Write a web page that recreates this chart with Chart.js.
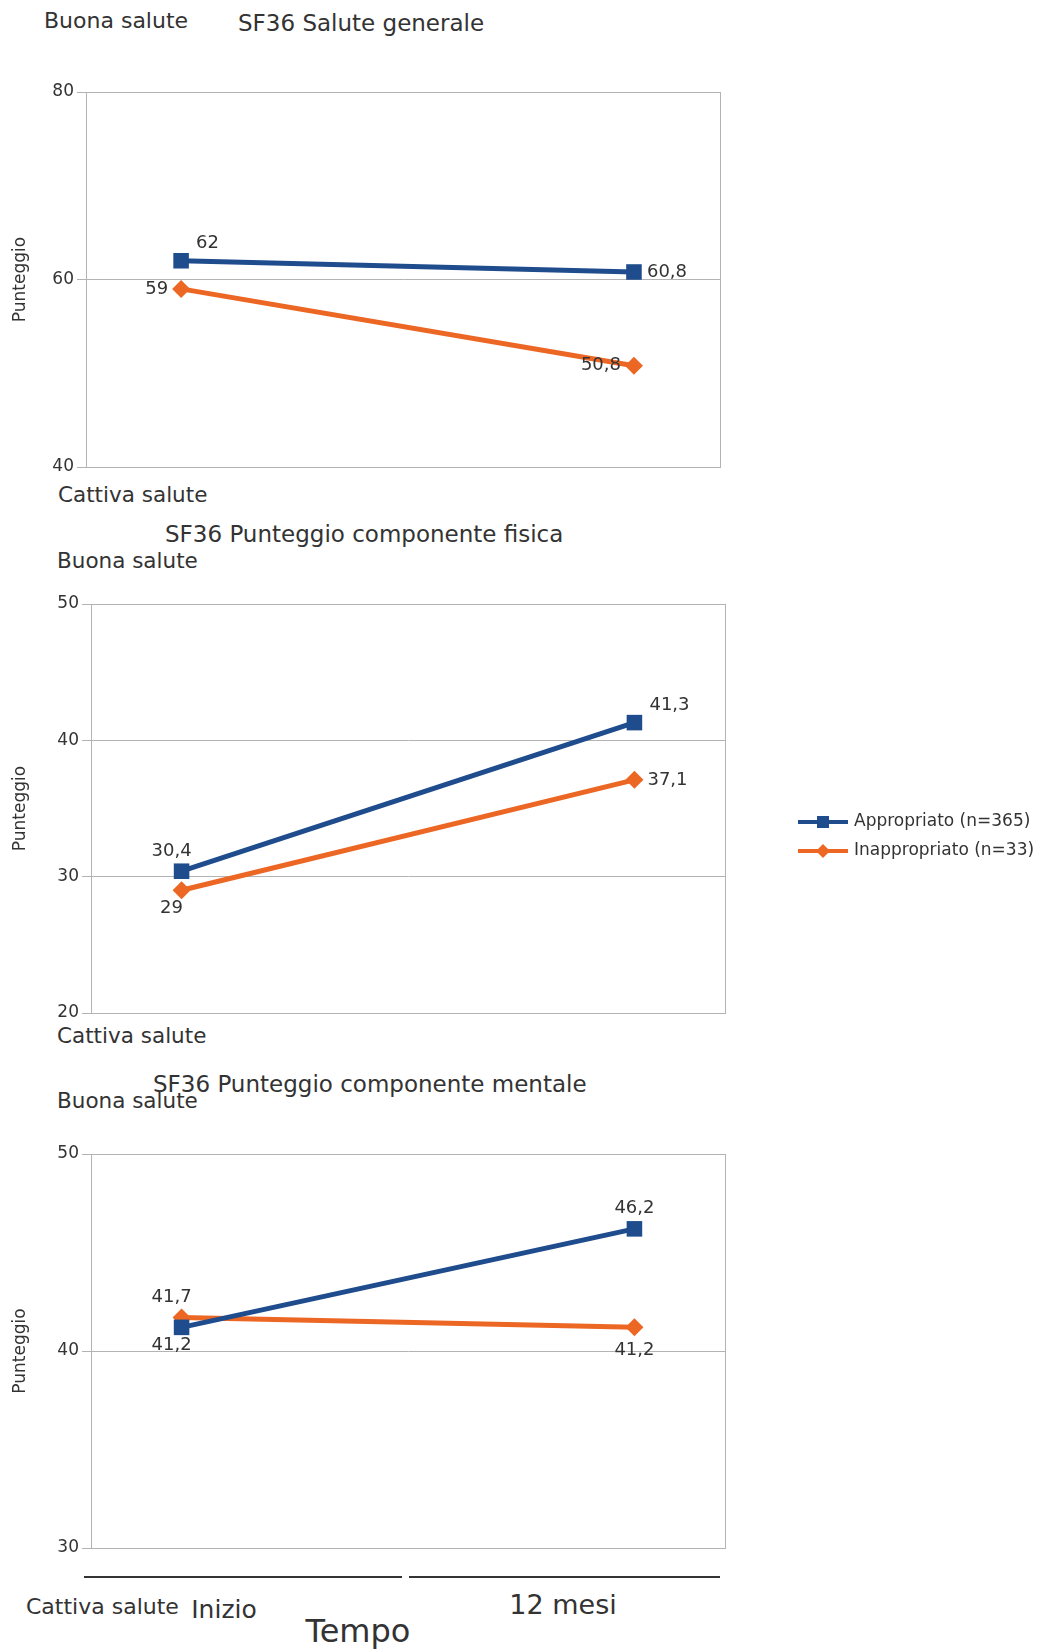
<!DOCTYPE html>
<html>
<head>
<meta charset="utf-8">
<script src="https://cdn.jsdelivr.net/npm/chart.js@4.4.1/dist/chart.umd.min.js"></script>
<style>
  body { margin: 0; background: #fff; }
  #page { position: relative; width: 1041px; height: 1652px; overflow: hidden; font-family: "DejaVu Sans", sans-serif; color: #333; }
  .txt { position: absolute; white-space: nowrap; transform: translateY(-50%); line-height: 1; }
  .mid { transform: translate(-50%, -50%); }
  .rule { position: absolute; height: 2px; background: #333; }
  canvas { position: absolute; }
</style>
</head>
<body>
<div id="page">
  <div class="txt" style="left:44px;top:21px;font-size:22px">Buona salute</div>
  <div class="txt" style="left:238px;top:23px;font-size:23px">SF36 Salute generale</div>
  <div class="txt" style="left:58px;top:495px;font-size:21.5px">Cattiva salute</div>

  <div class="txt" style="left:165px;top:534px;font-size:23px">SF36 Punteggio componente fisica</div>
  <div class="txt" style="left:57px;top:561px;font-size:21.5px">Buona salute</div>
  <div class="txt" style="left:57px;top:1036px;font-size:21.5px">Cattiva salute</div>

  <div class="txt" style="left:153px;top:1084px;font-size:23px">SF36 Punteggio componente mentale</div>
  <div class="txt" style="left:57px;top:1101px;font-size:21.5px">Buona salute</div>

  <div class="rule" style="left:84px;top:1576px;width:318px"></div>
  <div class="rule" style="left:409px;top:1576px;width:311px"></div>
  <div class="txt" style="left:26px;top:1607px;font-size:22px">Cattiva salute</div>
  <div class="txt mid" id="tp0" style="left:224px;top:1609px;font-size:25px"></div>
  <div class="txt mid" id="tp1" style="left:563px;top:1604px;font-size:27px"></div>
  <div class="txt mid" style="left:358px;top:1631px;font-size:32px">Tempo</div>

  <canvas id="chartGenerale"></canvas>
  <canvas id="chartFisica"></canvas>
  <canvas id="chartMentale"></canvas>
</div>
<script>
const series = ['Appropriato (n=365)', 'Inappropriato (n=33)'];
const timepoints = ['Inizio', '12 mesi'];

const generaleAppropriato = [62, 60.8];
const generaleInappropriato = [59, 50.8];
const generaleTicks = [40, 60, 80];

const fisicaAppropriato = [30.4, 41.3];
const fisicaInappropriato = [29, 37.1];
const fisicaTicks = [20, 30, 40, 50];

const mentaleAppropriato = [41.2, 46.2];
const mentaleInappropriato = [41.7, 41.2];
const mentaleTicks = [30, 40, 50];

const BLUE = '#1f4c8c';
const ORANGE = '#ec6624';
const GRID = '#b3b3b3';
const FONT = 'DejaVu Sans';

document.getElementById('tp0').textContent = timepoints[0];
document.getElementById('tp1').textContent = timepoints[1];

// where the value label goes relative to its point
const offsets = {
    above:      { dx: 0,   dy: -21, align: 'center' },
    aboveLeft:  { dx: -10, dy: -20, align: 'center' },
    below:      { dx: 0,   dy: 23,  align: 'center' },
    belowLeft:  { dx: -10, dy: 18,  align: 'center' },
    left:       { dx: -13, dy: 0,   align: 'right' },
    right:      { dx: 13,  dy: 0,   align: 'left' },
    aboveRight: { dx: 15,  dy: -17, align: 'left' }
};

const valueLabels = {
    id: 'valueLabels',
    afterDatasetsDraw(chart) {
        const ctx = chart.ctx;
        ctx.save();
        ctx.font = '18px ' + FONT;
        ctx.fillStyle = '#333';
        ctx.textBaseline = 'middle';
        chart.data.datasets.forEach((ds, i) => {
            chart.getDatasetMeta(i).data.forEach((pt, j) => {
                const o = offsets[ds.labelPlace[j]];
                ctx.textAlign = o.align;
                ctx.fillText(String(ds.data[j].y).replace('.', ','), pt.x + o.dx, pt.y + o.dy);
            });
        });
        ctx.restore();
    }
};

const frame = {
    id: 'frame',
    beforeDatasetsDraw(chart) {
        const a = chart.chartArea;
        const ctx = chart.ctx;
        ctx.save();
        ctx.strokeStyle = GRID;
        ctx.lineWidth = 1;
        ctx.strokeRect(a.left + 0.5, a.top + 0.5, a.right - a.left, a.bottom - a.top);
        ctx.restore();
    }
};

const sideLegend = {
    id: 'sideLegend',
    afterDraw(chart, args, opts) {
        if (!opts.show) return;
        const ctx = chart.ctx;
        ctx.save();
        chart.data.datasets.forEach((ds, i) => {
            const y = opts.y + i * 29;
            ctx.strokeStyle = ds.borderColor;
            ctx.lineWidth = 4;
            ctx.beginPath();
            ctx.moveTo(opts.x, y);
            ctx.lineTo(opts.x + 50, y);
            ctx.stroke();
            ctx.fillStyle = ds.borderColor;
            const cx = opts.x + 25;
            ctx.beginPath();
            if (ds.pointStyle === 'rect') {
                ctx.rect(cx - 6, y - 6, 12, 12);
            } else {
                ctx.moveTo(cx, y - 7); ctx.lineTo(cx + 7, y); ctx.lineTo(cx, y + 7); ctx.lineTo(cx - 7, y);
                ctx.closePath();
            }
            ctx.fill();
            ctx.fillStyle = '#333';
            ctx.font = '17px ' + FONT;
            ctx.textAlign = 'left';
            ctx.textBaseline = 'middle';
            ctx.fillText(ds.label, opts.x + 56, y);
        });
        ctx.restore();
    }
};

function renderPanel(id, appr, inappr, ticks, places, box, legend) {
    const canvas = document.getElementById(id);
    canvas.width = box.width;
    canvas.height = box.height;
    canvas.style.left = box.left + 'px';
    canvas.style.top = box.top + 'px';

    new Chart(canvas.getContext('2d'), {
        type: 'line',
        data: {
            datasets: [{
                label: series[0],
                data: appr.map((v, i) => ({ x: i, y: v })),
                borderColor: BLUE,
                backgroundColor: BLUE,
                borderWidth: 5,
                pointStyle: 'rect',
                pointRadius: 11,
                pointBorderWidth: 0,
                labelPlace: places[0]
            }, {
                label: series[1],
                data: inappr.map((v, i) => ({ x: i, y: v })),
                borderColor: ORANGE,
                backgroundColor: ORANGE,
                borderWidth: 5,
                pointStyle: 'rectRot',
                pointRadius: 9,
                pointBorderWidth: 0,
                labelPlace: places[1]
            }]
        },
        options: {
            responsive: false,
            animation: false,
            layout: { padding: { top: box.padTop, bottom: box.padBottom, right: box.padRight, left: 0 } },
            plugins: {
                legend: { display: false },
                tooltip: { enabled: false },
                sideLegend: legend || { show: false }
            },
            scales: {
                x: { type: 'linear', min: box.xMin, max: box.xMin + 1.4, display: false },
                y: {
                    min: ticks[0],
                    max: ticks[ticks.length - 1],
                    afterBuildTicks: (s) => { s.ticks = ticks.map(v => ({ value: v })); },
                    afterFit: (s) => { s.width = box.axisWidth; },
                    grid: { color: GRID, tickLength: 9 },
                    border: { color: GRID },
                    ticks: { color: '#333', padding: 3, font: { family: FONT, size: 17 } },
                    title: {
                        display: true,
                        text: 'Punteggio',
                        color: '#333',
                        font: { family: FONT, size: 17 },
                        padding: { top: 10, bottom: 0 }
                    }
                }
            }
        },
        plugins: [frame, valueLabels, sideLegend]
    });
}

renderPanel('chartGenerale', generaleAppropriato, generaleInappropriato, generaleTicks,
    [['aboveRight', 'right'], ['left', 'left']],
    { left: 0, top: 60, width: 745, height: 430, axisWidth: 86, padTop: 32, padBottom: 23, padRight: 25, xMin: -0.21 });

renderPanel('chartFisica', fisicaAppropriato, fisicaInappropriato, fisicaTicks,
    [['aboveLeft', 'aboveRight'], ['belowLeft', 'right']],
    { left: 0, top: 570, width: 1041, height: 470, axisWidth: 91, padTop: 34, padBottom: 27, padRight: 316, xMin: -0.2 },
    { show: true, x: 798, y: 252 });

renderPanel('chartMentale', mentaleAppropriato, mentaleInappropriato, mentaleTicks,
    [['belowLeft', 'above'], ['aboveLeft', 'below']],
    { left: 0, top: 1120, width: 745, height: 450, axisWidth: 91, padTop: 34, padBottom: 22, padRight: 20, xMin: -0.2 });
</script>
</body>
</html>
